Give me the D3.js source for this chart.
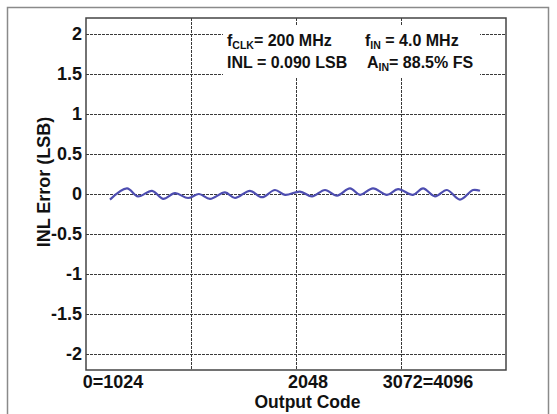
<!DOCTYPE html>
<html>
<head>
<meta charset="utf-8">
<script src="https://cdn.jsdelivr.net/npm/d3@7"></script>
<style>
  html, body { margin: 0; padding: 0; background: #fff; }
  svg { display: block; font-family: "Liberation Sans", Arial, sans-serif; font-weight: bold; }
</style>
</head>
<body>
<svg id="chart" width="557" height="414"></svg>
<script>
// Output code (x) and INL error in LSB (y)
const codes = [234, 400, 507, 644, 751, 868, 995, 1102, 1209, 1356, 1453, 1599, 1716, 1843, 1941,
  2087, 2204, 2331, 2448, 2575, 2672, 2799, 2935, 3043, 3189, 3287, 3404, 3520, 3647, 3774, 3842];
const inl = [-0.07, 0.07, -0.03, 0.04, -0.06, 0.01, -0.05, 0.0, -0.06, 0.02, -0.05, 0.04, -0.04, 0.05, -0.01,
  0.03, -0.03, 0.05, -0.02, 0.07, -0.01, 0.07, -0.01, 0.06, -0.01, 0.07, -0.03, 0.05, -0.07, 0.05, 0.04];

const yTicks = [2, 1.5, 1, 0.5, 0, -0.5, -1, -1.5, -2];
const xGrid = [1024, 2048, 3072];
const xLabels = ['0=1024', '2048', '3072=4096'];
const xLabelAt = [263, 2165, 3335];

const padding = { top: 18, right: 51, bottom: 44, left: 86 };
const W = 557, H = 414;

const svg = d3.select('#chart');

// outer frame
svg.append('rect')
  .attr('x', 7.5).attr('y', 7.5)
  .attr('width', 541).attr('height', 420)
  .attr('fill', '#fff')
  .attr('stroke', '#8a8a8a')
  .attr('stroke-width', 1.5);

const x = d3.scaleLinear().domain([0, 4096]).range([padding.left, W - padding.right]);
const y = d3.scaleLinear().domain([-2.2, 2.2]).range([H - padding.bottom, padding.top]);

const grid = svg.append('g').attr('class', 'grid')
  .attr('stroke', '#3a3a3a').attr('stroke-width', 1).attr('stroke-dasharray', '3,1');

grid.selectAll('line.h').data(yTicks).join('line')
  .attr('class', 'h')
  .attr('x1', x(0)).attr('x2', x(4096))
  .attr('y1', d => Math.round(y(d)) + 0.5).attr('y2', d => Math.round(y(d)) + 0.5);

grid.selectAll('line.v').data(xGrid).join('line')
  .attr('class', 'v')
  .attr('x1', d => Math.round(x(d)) + 0.5).attr('x2', d => Math.round(x(d)) + 0.5)
  .attr('y1', y(2.2)).attr('y2', y(-2.2));

// annotation box hides the grid behind it
svg.append('rect')
  .attr('x', 223).attr('y', 25)
  .attr('width', 257).attr('height', 52)
  .attr('fill', '#fff');

const ann = svg.append('g').attr('font-size', 16).attr('fill', '#111');
function annot(px, py, main, sub, rest) {
  const t = ann.append('text').attr('x', px).attr('y', py);
  t.append('tspan').text(main);
  if (sub) t.append('tspan').attr('font-size', 10.5).attr('dy', 3).text(sub);
  t.append('tspan').attr('dy', sub ? -3 : 0).text(rest);
}
annot(227, 46, 'f', 'CLK', '= 200 MHz');
annot(227, 68, 'INL = 0.090 LSB', null, '');
annot(365, 46, 'f', 'IN', ' = 4.0 MHz');
annot(367, 68, 'A', 'IN', '= 88.5% FS');

// INL curve
const line = d3.line()
  .x((d, i) => x(codes[i]))
  .y(d => y(d))
  .curve(d3.curveCatmullRom);

svg.append('path')
  .datum(inl)
  .attr('fill', 'none')
  .attr('stroke', '#4d4db0')
  .attr('stroke-width', 2.2)
  .attr('d', line);

// plot frame
svg.append('rect')
  .attr('x', x(0)).attr('y', y(2.2))
  .attr('width', x(4096) - x(0)).attr('height', y(-2.2) - y(2.2))
  .attr('fill', 'none')
  .attr('stroke', '#444')
  .attr('stroke-width', 1.5);

// y tick labels
svg.append('g').attr('font-size', 18).attr('text-anchor', 'end').attr('fill', '#111')
  .selectAll('text').data(yTicks).join('text')
  .attr('x', x(0) - 4)
  .attr('y', d => y(d))
  .attr('dy', '0.36em')
  .text(d => String(d));

// x tick labels
svg.append('g').attr('font-size', 18).attr('text-anchor', 'middle').attr('fill', '#111')
  .selectAll('text').data(xLabels).join('text')
  .attr('x', (d, i) => x(xLabelAt[i]))
  .attr('y', 388)
  .text(d => d);

svg.append('text')
  .attr('x', x(2160)).attr('y', 408)
  .attr('font-size', 17.5).attr('text-anchor', 'middle').attr('fill', '#111')
  .text('Output Code');

svg.append('text')
  .attr('transform', `translate(50, ${y(0.15)}) rotate(-90)`)
  .attr('font-size', 18).attr('text-anchor', 'middle').attr('fill', '#111')
  .text('INL Error (LSB)');
</script>
</body>
</html>
